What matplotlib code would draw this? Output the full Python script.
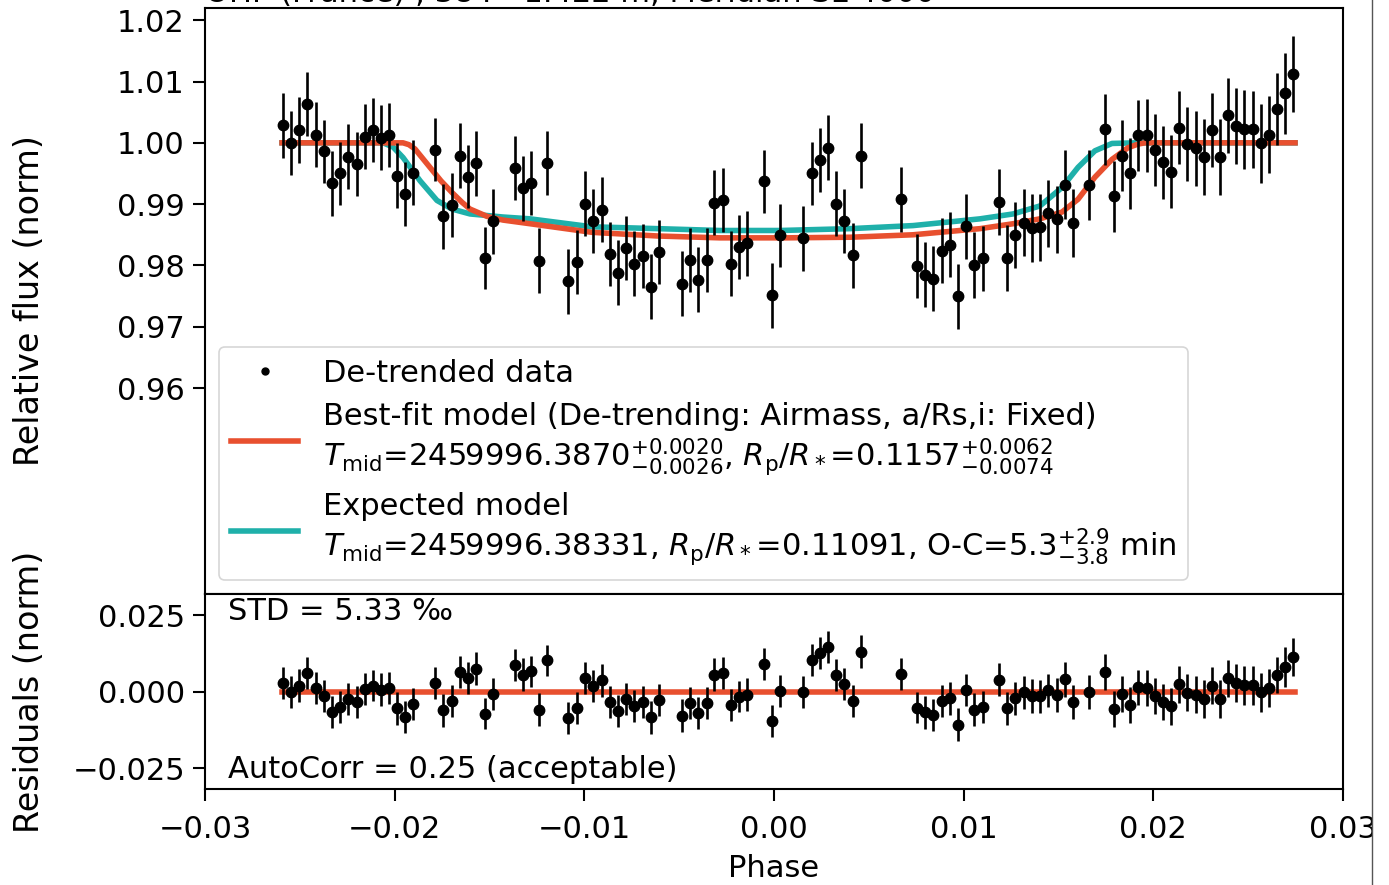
import numpy as np
import matplotlib
matplotlib.use("Agg")
import matplotlib.pyplot as plt
from matplotlib.patches import Rectangle
from matplotlib.lines import Line2D

# ---------------- data ----------------
phase = [-0.02590, -0.02547, -0.02503, -0.02461, -0.02416, -0.02374, -0.02332, -0.02288, -0.02244, -0.02200,
         -0.02158, -0.02116, -0.02072, -0.02030, -0.01988, -0.01944, -0.01902, -0.01789, -0.01744, -0.01699,
         -0.01657, -0.01612, -0.01570, -0.01525, -0.01483, -0.01366, -0.01323, -0.01281, -0.01239, -0.01195,
         -0.01085, -0.01040, -0.00996, -0.00953, -0.00908, -0.00865, -0.00822, -0.00779, -0.00737, -0.00692,
         -0.00650, -0.00608, -0.00485, -0.00443, -0.00399, -0.00355, -0.00315, -0.00269, -0.00225, -0.00183,
         -0.00141, -0.00054, -0.00011, 0.00032, 0.00154, 0.00199, 0.00243, 0.00286, 0.00328, 0.00371,
         0.00415, 0.00457, 0.00670, 0.00756, 0.00798, 0.00840, 0.00884, 0.00928, 0.00972, 0.01012,
         0.01056, 0.01100, 0.01186, 0.01230, 0.01272, 0.01316, 0.01359, 0.01402, 0.01446, 0.01490,
         0.01533, 0.01575, 0.01659, 0.01745, 0.01791, 0.01833, 0.01877, 0.01921, 0.01965, 0.02007,
         0.02049, 0.02092, 0.02135, 0.02179, 0.02223, 0.02267, 0.02309, 0.02353, 0.02395, 0.02437,
         0.02480, 0.02524, 0.02568, 0.02610, 0.02654, 0.02696, 0.02738]

flux = [1.0029, 1.0000, 1.0021, 1.0063, 1.0013, 0.9986, 0.9934, 0.9950, 0.9977, 0.9966,
        1.0010, 1.0021, 1.0008, 1.0013, 0.9946, 0.9916, 0.9951, 0.9989, 0.9880, 0.9898,
        0.9979, 0.9945, 0.9967, 0.9812, 0.9872, 0.9959, 0.9926, 0.9935, 0.9808, 0.9967,
        0.9774, 0.9805, 0.9901, 0.9873, 0.9891, 0.9819, 0.9788, 0.9828, 0.9803, 0.9816,
        0.9765, 0.9822, 0.9770, 0.9809, 0.9777, 0.9809, 0.9902, 0.9907, 0.9803, 0.9830,
        0.9836, 0.9937, 0.9751, 0.9849, 0.9844, 0.9950, 0.9972, 0.9992, 0.9901, 0.9873,
        0.9817, 0.9979, 0.9908, 0.9799, 0.9785, 0.9778, 0.9824, 0.9834, 0.9750, 0.9864,
        0.9801, 0.9812, 0.9904, 0.9812, 0.9849, 0.9870, 0.9861, 0.9862, 0.9885, 0.9875,
        0.9932, 0.9869, 0.9931, 1.0022, 0.9913, 0.9979, 0.9950, 1.0012, 1.0012, 0.9988,
        0.9968, 0.9953, 1.0025, 0.9998, 0.9991, 0.9977, 1.0021, 0.9977, 1.0045, 1.0028,
        1.0022, 1.0022, 0.9999, 1.0013, 1.0055, 1.0081, 1.0113]

flux_err = [0.0053, 0.0052, 0.0054, 0.0052, 0.0053, 0.0052, 0.0053, 0.0052, 0.0053, 0.0052,
            0.0053, 0.0052, 0.0053, 0.0052, 0.0053, 0.0052, 0.0053, 0.0052, 0.0053, 0.0052,
            0.0053, 0.0052, 0.0053, 0.0051, 0.0053, 0.0052, 0.0053, 0.0052, 0.0053, 0.0052,
            0.0053, 0.0052, 0.0053, 0.0052, 0.0053, 0.0052, 0.0053, 0.0052, 0.0053, 0.0052,
            0.0053, 0.0052, 0.0053, 0.0052, 0.0053, 0.0052, 0.0053, 0.0052, 0.0053, 0.0052,
            0.0053, 0.0052, 0.0053, 0.0052, 0.0053, 0.0052, 0.0052, 0.0053, 0.0053, 0.0052,
            0.0053, 0.0053, 0.0053, 0.0052, 0.0053, 0.0053, 0.0053, 0.0053, 0.0053, 0.0053,
            0.0054, 0.0053, 0.0054, 0.0054, 0.0054, 0.0054, 0.0055, 0.0054, 0.0055, 0.0055,
            0.0056, 0.0056, 0.0057, 0.0058, 0.0058, 0.0058, 0.0058, 0.0058, 0.0059, 0.0059,
            0.0059, 0.0060, 0.0060, 0.0060, 0.0061, 0.0062, 0.0061, 0.0062, 0.0061, 0.0062,
            0.0064, 0.0063, 0.0064, 0.0063, 0.0059, 0.0066, 0.0062]

residual = [0.0029, 0.0000, 0.0021, 0.0063, 0.0013, -0.0014, -0.0066, -0.0050, -0.0023, -0.0034,
            0.0010, 0.0021, 0.0008, 0.0013, -0.0054, -0.0082, -0.0040, 0.0030, -0.0060, -0.0030,
            0.0065, 0.0045, 0.0076, -0.0071, -0.0007, 0.0088, 0.0057, 0.0067, -0.0058, 0.0103,
            -0.0085, -0.0052, 0.0045, 0.0019, 0.0038, -0.0033, -0.0063, -0.0022, -0.0046, -0.0033,
            -0.0083, -0.0026, -0.0077, -0.0037, -0.0069, -0.0036, 0.0057, 0.0062, -0.0042, -0.0015,
            -0.0009, 0.0092, -0.0094, 0.0004, -0.0001, 0.0105, 0.0127, 0.0147, 0.0055, 0.0027,
            -0.0029, 0.0132, 0.0059, -0.0051, -0.0067, -0.0075, -0.0030, -0.0021, -0.0107, 0.0006,
            -0.0058, -0.0049, 0.0040, -0.0054, -0.0020, -0.0001, -0.0013, -0.0014, 0.0005, -0.0009,
            0.0041, -0.0032, 0.0000, 0.0066, -0.0056, -0.0006, -0.0043, 0.0015, 0.0012, -0.0012,
            -0.0032, -0.0047, 0.0025, -0.0002, -0.0009, -0.0023, 0.0021, -0.0023, 0.0045, 0.0028,
            0.0022, 0.0022, -0.0001, 0.0013, 0.0055, 0.0081, 0.0113]

# best-fit model curve
fit_phase = [-0.02594, -0.01956, -0.01925, -0.01893, -0.01814, -0.01756, -0.01698, -0.01645, -0.01603,
             -0.01513, -0.01429, -0.01286, -0.00960, -0.00612, -0.00285, 0.00058, 0.00401, 0.00733,
             0.01086, 0.01260, 0.01402, 0.01518, 0.01603, 0.01692, 0.01782, 0.01866, 0.01920, 0.01956, 0.02747]
fit_flux = [1.0000, 1.0000, 0.9997, 0.9990, 0.9960, 0.9938, 0.9919, 0.9903, 0.9892,
            0.9880, 0.9874, 0.9868, 0.9854, 0.9848, 0.9845, 0.9845, 0.9846, 0.9850,
            0.9860, 0.9868, 0.9876, 0.9887, 0.9908, 0.9944, 0.9973, 0.9992, 0.9998, 1.0000, 1.0000]

# expected model curve
exp_phase = [-0.02594, -0.02061, -0.02008, -0.01956, -0.01866, -0.01777, -0.01698, -0.01603, -0.01429,
             -0.01286, -0.00960, -0.00612, -0.00285, 0.00032, 0.00401, 0.00733, 0.01086, 0.01260,
             0.01402, 0.01518, 0.01603, 0.01692, 0.01782, 0.01903, 0.02747]
exp_flux = [1.0000, 1.0000, 0.9993, 0.9976, 0.9938, 0.9906, 0.9892, 0.9884, 0.9879,
            0.9876, 0.9863, 0.9860, 0.9857, 0.9857, 0.9860, 0.9865, 0.9876, 0.9884,
            0.9897, 0.9927, 0.9960, 0.9987, 0.9999, 1.0000, 1.0000]

res_line_phase = [-0.02594, 0.02747]
res_line_value = [0.0, 0.0]

x_ticks = [-0.03, -0.02, -0.01, 0.00, 0.01, 0.02, 0.03]
y_ticks_top = [0.96, 0.97, 0.98, 0.99, 1.00, 1.01, 1.02]
y_ticks_bot = [-0.025, 0.0, 0.025]

label_data = "De-trended data"
label_fit = ("Best-fit model (De-trending: Airmass, a/Rs,i: Fixed)\n"
             r"$T_\mathrm{mid}$=2459996.3870$^{+0.0020}_{-0.0026}$, "
             r"$R_\mathrm{p}/R_*$=0.1157$^{+0.0062}_{-0.0074}$")
label_exp = ("Expected model\n"
             r"$T_\mathrm{mid}$=2459996.38331, $R_\mathrm{p}/R_*$=0.11091, "
             r"O-C=5.3$^{+2.9}_{-3.8}$ min")
title_text = "OHP (France) , 384 - 1.422 m, Meridian SL 4000"

# ---------------- styling ----------------
RED = "#e8502f"
TEAL = "#1fb0aa"
FS = 22
LFS = 24
plt.rcParams.update({
    "font.family": ["DejaVu Sans"],
    "font.size": FS,
    "axes.linewidth": 1.5,
    "xtick.major.size": 8.5,
    "ytick.major.size": 8.5,
    "xtick.major.width": 1.5,
    "ytick.major.width": 1.5,
    "xtick.major.pad": 10.5,
    "ytick.major.pad": 6,
    "mathtext.fontset": "dejavusans",
})

fig = plt.figure(figsize=(13.89, 8.85), dpi=100)
ax1 = fig.add_axes([0.1476, 0.3288, 0.8193, 0.6622])
ax2 = fig.add_axes([0.1476, 0.1085, 0.8193, 0.2203], sharex=ax1)

# top panel
ax1.errorbar(phase, flux, yerr=flux_err, fmt="none", ecolor="black", elinewidth=1.9, capsize=0, zorder=3)
ax1.plot(phase, flux, "o", color="black", markersize=7.5, zorder=4, label=label_data)
h_exp, = ax1.plot(exp_phase, exp_flux, "-", color=TEAL, lw=4, zorder=2, label=label_exp)
h_fit, = ax1.plot(fit_phase, fit_flux, "-", color=RED, lw=4, zorder=2.5, label=label_fit)
h_dat = Line2D([], [], marker="o", color="black", ls="none", markersize=5)

ax1.set_xlim(-0.03, 0.03)
ax1.set_ylim(0.9264, 1.0220)
ax1.set_yticks(y_ticks_top)
ax1.set_yticklabels([f"{v:.2f}" for v in y_ticks_top])
ax1.tick_params(axis="x", bottom=False, labelbottom=False)
ax1.set_ylabel("Relative flux (norm)", fontsize=LFS)
ax1.yaxis.set_label_coords(-0.140, 0.5)
leg = ax1.legend([h_dat, h_fit, h_exp], [label_data, label_fit, label_exp],
                 loc="lower left", fontsize=FS, borderaxespad=0.45,
                 handlelength=2.2, handletextpad=0.8, labelspacing=0.45)
leg.get_frame().set_linewidth(1.2)
ax1.set_title(title_text, loc="left", pad=3, fontsize=FS)

# bottom panel
ax2.errorbar(phase, residual, yerr=flux_err, fmt="none", ecolor="black", elinewidth=1.9, capsize=0, zorder=3)
ax2.plot(phase, residual, "o", color="black", markersize=7.5, zorder=4)
ax2.plot(res_line_phase, res_line_value, "-", color=RED, lw=4, zorder=2)
ax2.set_ylim(-0.0317, 0.0320)
ax2.set_yticks(y_ticks_bot)
ax2.set_yticklabels(["\u22120.025", "0.000", "0.025"])
ax2.set_xticks(x_ticks)
ax2.set_xticklabels([("\u2212" if v < 0 else "") + f"{abs(v):.2f}" for v in x_ticks])
ax2.set_xlabel("Phase", labelpad=7)
ax2.set_ylabel("Residuals (norm)", fontsize=LFS)
ax2.yaxis.set_label_coords(-0.140, 0.5)
ax2.text(0.020, 0.985, "STD = 5.33 \u2030", transform=ax2.transAxes, ha="left", va="top", fontsize=FS)
ax2.text(0.020, 0.025, "AutoCorr = 0.25 (acceptable)", transform=ax2.transAxes, ha="left", va="bottom", fontsize=FS)

# page edge at right (cropped source)
fig.add_artist(Rectangle((1372 / 1389, 0), 1 - 1372 / 1389, 1, transform=fig.transFigure,
                         facecolor="white", edgecolor="none", zorder=10))
fig.add_artist(Line2D([1371.5 / 1389, 1371.5 / 1389], [0, 1], transform=fig.transFigure,
                      color="#555555", lw=1.0, zorder=11))

fig.savefig("out.png", dpi=100)
